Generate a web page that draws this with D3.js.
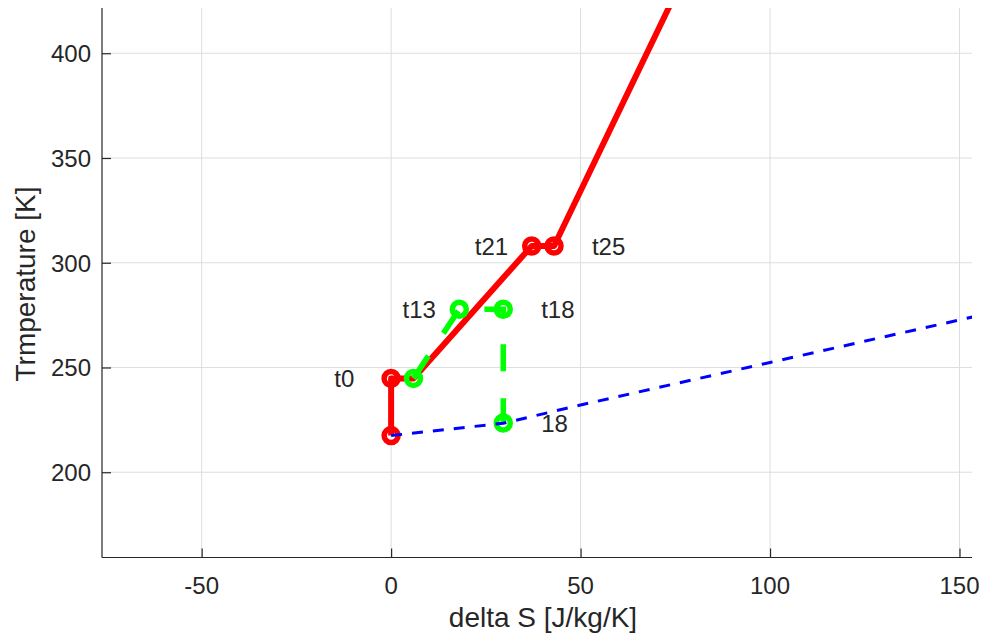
<!DOCTYPE html>
<html>
<head>
<meta charset="utf-8">
<script src="https://cdn.jsdelivr.net/npm/d3@7"></script>
<style>
  html, body { margin: 0; padding: 0; background: #fff; }
  text { font-family: "Liberation Sans", Arial, Helvetica, sans-serif; fill: #262626; }
</style>
</head>
<body>
<svg id="chart" width="985" height="636"></svg>
<script>
// T-s diagram: delta S vs temperature

// red process path (last point leaves the plot at the top)
const redS = [0, 0, 5.9, 37.1, 43.0, 80];
const redT = [217.5, 244.8, 244.8, 308, 308, 447];
const redMarkS = [0, 0, 37.1, 43.0];
const redMarkT = [217.5, 244.8, 308, 308];

// green dashed path
const greenS = [5.9, 18.0, 29.6, 29.6];
const greenT = [244.8, 277.8, 277.8, 223.5];

// blue dashed reference curve
const blueS = [0, 29.6, 50, 100, 150, 160];
const blueT = [217.5, 223.4, 232.1, 252.4, 272.7, 276.8];

// point labels
const labelText = ['t0', 't13', 't21', 't18', '18', 't25'];
const labelS = [0, 18.0, 37.1, 29.6, 29.6, 43.0];
const labelT = [244.8, 277.8, 308, 277.8, 223.5, 308];
const labelSide = ['left', 'left', 'left', 'right', 'right', 'right'];

const xTicks = [-50, 0, 50, 100, 150];
const yTicks = [200, 250, 300, 350, 400];

const margin = { left: 102, top: 8, right: 972, bottom: 557.5 };

const svg = d3.select('#chart');

const x = d3.scaleLinear().domain([-76.3, 153.3]).range([margin.left, margin.right]);
const y = d3.scaleLinear().domain([159.3, 421.6]).range([margin.bottom, margin.top]);

svg.append('defs').append('clipPath').attr('id', 'plotClip')
  .append('rect')
  .attr('x', margin.left).attr('y', margin.top)
  .attr('width', margin.right - margin.left)
  .attr('height', margin.bottom - margin.top);

// grid
const grid = svg.append('g').attr('stroke', '#dedede').attr('stroke-width', 1);
grid.selectAll('line.vx').data(xTicks).enter().append('line')
  .attr('x1', d => x(d)).attr('x2', d => x(d))
  .attr('y1', margin.top).attr('y2', margin.bottom);
grid.selectAll('line.hy').data(yTicks).enter().append('line')
  .attr('x1', margin.left).attr('x2', margin.right)
  .attr('y1', d => y(d)).attr('y2', d => y(d));

// axes (ticks point inward)
const xAxis = svg.append('g')
  .attr('transform', `translate(0,${margin.bottom})`)
  .call(d3.axisTop(x).tickValues(xTicks).tickSize(9).tickFormat(''));
const yAxis = svg.append('g')
  .attr('transform', `translate(${margin.left},0)`)
  .call(d3.axisRight(y).tickValues(yTicks).tickSize(9).tickFormat(''));
[xAxis, yAxis].forEach(a => {
  a.select('.domain').attr('stroke', '#262626').attr('stroke-width', 1.2);
  a.selectAll('.tick line').attr('stroke', '#262626').attr('stroke-width', 1.2);
});
// trim the domain path end caps
xAxis.select('.domain').attr('d', `M${margin.left},0H${margin.right}`);
yAxis.select('.domain').attr('d', `M0,${margin.top}V${margin.bottom}`);

svg.append('g').selectAll('text').data(xTicks).enter().append('text')
  .attr('x', d => x(d)).attr('y', 594)
  .attr('text-anchor', 'middle').attr('font-size', 24)
  .text(d => d);
svg.append('g').selectAll('text').data(yTicks).enter().append('text')
  .attr('x', 91).attr('y', d => y(d) + 9)
  .attr('text-anchor', 'end').attr('font-size', 24)
  .text(d => d);

svg.append('text')
  .attr('x', 543).attr('y', 627)
  .attr('text-anchor', 'middle').attr('font-size', 28)
  .text('delta S [J/kg/K]');
svg.append('text')
  .attr('transform', 'translate(35,284) rotate(-90)')
  .attr('text-anchor', 'middle').attr('font-size', 28)
  .text('Trmperature [K]');

// data
const plot = svg.append('g').attr('clip-path', 'url(#plotClip)');
const line = d3.line().x(d => x(d[0])).y(d => y(d[1]));

plot.append('path')
  .datum(d3.zip(redS, redT))
  .attr('d', line)
  .attr('fill', 'none').attr('stroke', '#ff0000')
  .attr('stroke-width', 6).attr('stroke-linejoin', 'round');
plot.append('g').selectAll('circle').data(d3.zip(redMarkS, redMarkT)).enter()
  .append('circle')
  .attr('cx', d => x(d[0])).attr('cy', d => y(d[1])).attr('r', 7)
  .attr('fill', 'none').attr('stroke', '#ff0000').attr('stroke-width', 5.5);

plot.append('path')
  .datum(d3.zip(greenS, greenT))
  .attr('d', line)
  .attr('fill', 'none').attr('stroke', '#00ff00')
  .attr('stroke-width', 5.5).attr('stroke-dasharray', '27,27');
plot.append('g').selectAll('circle').data(d3.zip(greenS, greenT)).enter()
  .append('circle')
  .attr('cx', d => x(d[0])).attr('cy', d => y(d[1])).attr('r', 7)
  .attr('fill', 'none').attr('stroke', '#00ff00').attr('stroke-width', 5.5);

plot.append('path')
  .datum(d3.zip(blueS, blueT))
  .attr('d', line)
  .attr('fill', 'none').attr('stroke', '#0000ff')
  .attr('stroke-width', 3).attr('stroke-dasharray', '11,10');

// labels: left ones end before the point, right ones start after it
const lbl = svg.append('g');
labelText.forEach((t, i) => {
  const off = labelSide[i] === 'left' ? -15 : 10;
  lbl.append('text')
    .attr('x', x(labelS[i] + off))
    .attr('y', y(labelT[i]) + 9)
    .attr('font-size', 24)
    .text(t);
});
</script>
</body>
</html>
